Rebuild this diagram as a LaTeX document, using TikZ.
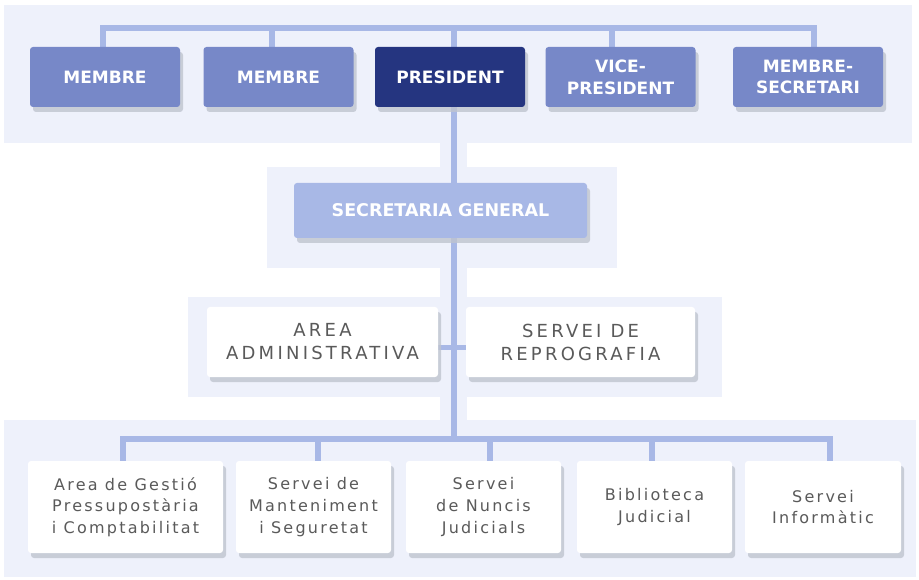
\documentclass[tikz,border=0pt]{standalone}
\usepackage{fontspec}
\setmainfont{DejaVu Sans}
\newfontfamily\spacedfont[LetterSpace=18]{DejaVu Sans}
\newfontfamily\unitfont[LetterSpace=14]{DejaVu Sans}
\usetikzlibrary{shadows,positioning,calc}
\definecolor{panelbg}{HTML}{EEF1FB}
\definecolor{membreblue}{HTML}{7788C8}
\definecolor{presblue}{HTML}{253580}
\definecolor{linkblue}{HTML}{A8B8E6}
\definecolor{labelgray}{HTML}{5A5A5A}
\definecolor{shadowgray}{HTML}{BFC4CF}
\pgfdeclarelayer{panels}
\pgfdeclarelayer{links}
\pgfsetlayers{panels,links,main}

\begin{document}
\begin{tikzpicture}[x=1pt,y=-1pt,
    link/.style={draw=linkblue,line width=6pt,line cap=rect},
    panel/.style={fill=panelbg}]
  \tikzstyle{box}=[rounded corners=3pt,align=center,inner sep=0pt,
    drop shadow={shadow xshift=3pt,shadow yshift=-5pt,fill=shadowgray,opacity=.8}]
  \tikzstyle{topbox}=[box,fill=membreblue,text=white,minimum width=150pt,minimum height=60pt,
    font=\bfseries\fontsize{17}{21.7}\selectfont]
  \tikzstyle{presbox}=[topbox,fill=presblue]
  \tikzstyle{sgbox}=[box,fill=linkblue,text=white,minimum width=293pt,minimum height=55pt,
    font=\bfseries\fontsize{17.5}{22}\selectfont]
  \tikzstyle{areabox}=[box,fill=white,text=labelgray,minimum height=70pt,
    font=\spacedfont\fontsize{18}{23}\selectfont]
  \tikzstyle{unitbox}=[box,fill=white,text=labelgray,minimum width=155pt,minimum height=92pt,
    font=\unitfont\fontsize{16}{21.7}\selectfont]

  \useasboundingbox (0,0) rectangle (919,580);

  % background panels
  \begin{pgfonlayer}{panels}
    \fill[panel] (4,5) rectangle (912,143);
    \fill[panel] (267,167) rectangle (617,268);
    \fill[panel] (188,297) rectangle (722,397);
    \fill[panel] (4,420) rectangle (916,577);
    \fill[panel] (440,143) rectangle (467,420);
  \end{pgfonlayer}

  % council
  \node[topbox]  (m1)   at (105,77)   {MEMBRE};
  \node[topbox]  (m2)   at (278.5,77) {MEMBRE};
  \node[presbox] (pres) at (450,77)   {PRESIDENT};
  \node[topbox]  (vp)   at (620.5,77) {VICE-\\PRESIDENT};
  \node[topbox]  (ms)   at (808,77)   {MEMBRE-\\SECRETARI};

  \node[sgbox] (sg) at (440.5,210.5) {SECRETARIA GENERAL};

  \node[areabox,minimum width=231pt] (area)  at (322.5,342) {AREA\\ADMINISTRATIVA};
  \node[areabox,minimum width=229pt] (repro) at (580.5,342) {SERVEI DE\\REPROGRAFIA};

  % units
  \node[unitbox,minimum width=195pt] (gestio)  at (125.5,507) {Area de Gestió\\Pressupostària\\i Comptabilitat};
  \node[unitbox] (mant)    at (313.5,507) {Servei de\\Manteniment\\i Seguretat};
  \node[unitbox] (nuncis)  at (483.5,507) {Servei\\de Nuncis\\Judicials};
  \node[unitbox] (biblio)  at (654.5,507) {Biblioteca\\Judicial};
  \node[unitbox,minimum width=156pt] (informat) at (823,507) {Servei\\Informàtic};

  \coordinate (tb) at (0,28);
  \coordinate (bb) at (0,439);

  \begin{pgfonlayer}{links}
    \foreach \n/\s in {m1/-2,m2/-7,pres/4,vp/-9,ms/6}
      \draw[link] ([xshift=\s pt]\n.north) -- ([xshift=\s pt]\n.north |- tb);
    \draw[link] ([xshift=-2pt]m1.north |- tb) -- ([xshift=6pt]ms.north |- tb);
    \draw[link] ([xshift=4pt]pres.north |- tb) -- ([xshift=4pt]pres.north |- bb);
    \draw[link,line width=5pt] ([yshift=-5pt]area.east) -- ([yshift=-5pt]repro.west);
    \foreach \n/\s in {gestio/-2.5,mant/4.5,nuncis/6.5,biblio/-2.5,informat/7}
      \draw[link] ([xshift=\s pt]\n.north) -- ([xshift=\s pt]\n.north |- bb);
    \draw[link] ([xshift=-2.5pt]gestio.north |- bb) -- ([xshift=7pt]informat.north |- bb);
  \end{pgfonlayer}
\end{tikzpicture}
\end{document}
